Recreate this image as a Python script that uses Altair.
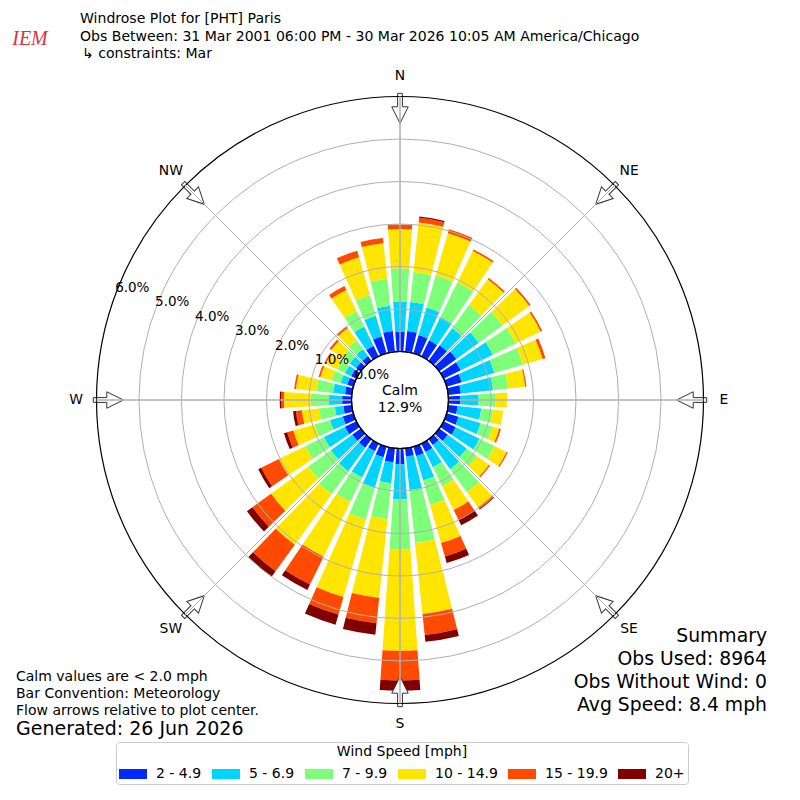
import math
import altair as alt
import pandas as pd

# ---------------- data ----------------
directions = list(range(0, 360, 10))
speed_bins = ["2 - 4.9", "5 - 6.9", "7 - 9.9", "10 - 14.9", "15 - 19.9", "20+"]
bin_colors = ["#0028ff", "#00d4ff", "#7dff7a", "#ffe500", "#ff4a00", "#800000"]

# percent of observations per direction (0,10,...,350) for each speed bin
spd_2_5 = [0.47, 0.49, 0.45, 0.42, 0.45, 0.50, 0.45, 0.37, 0.30, 0.28, 0.22, 0.29,
           0.32, 0.25, 0.17, 0.22, 0.23, 0.20, 0.37, 0.33, 0.26, 0.20, 0.25, 0.25,
           0.30, 0.26, 0.20, 0.22, 0.16, 0.15, 0.14, 0.14, 0.14, 0.28, 0.42, 0.49]
spd_5_7 = [0.70, 0.69, 0.67, 0.61, 0.50, 0.65, 0.84, 0.80, 0.76, 0.43, 0.56, 0.54,
           0.62, 0.55, 0.70, 0.40, 0.60, 0.79, 0.83, 0.50, 0.75, 0.69, 0.68, 0.62,
           0.55, 0.31, 0.20, 0.31, 0.28, 0.16, 0.16, 0.18, 0.20, 0.50, 0.50, 0.60]
spd_7_10 = [0.78, 0.71, 0.79, 0.91, 0.67, 0.70, 0.60, 0.70, 0.36, 0.40, 0.28, 0.29,
            0.40, 0.30, 0.67, 0.50, 0.60, 1.25, 1.17, 0.85, 0.77, 0.64, 0.67, 0.66,
            0.49, 0.38, 0.38, 0.43, 0.40, 0.22, 0.20, 0.22, 0.26, 0.41, 0.50, 0.64]
spd_10_15 = [0.93, 1.17, 1.03, 0.82, 0.75, 0.77, 0.65, 0.48, 0.40, 0.27, 0.24, 0.17,
             0.31, 0.35, 0.44, 0.62, 0.93, 1.68, 2.39, 1.86, 1.90, 1.43, 1.47, 1.08,
             0.69, 0.52, 0.40, 0.63, 0.48, 0.28, 0.30, 0.32, 0.35, 0.55, 0.93, 0.84]
spd_15_20 = [0.11, 0.11, 0.10, 0.04, 0.04, 0.04, 0.04, 0.07, 0.03, 0.00, 0.00, 0.04,
             0.03, 0.03, 0.05, 0.24, 0.33, 0.50, 0.70, 0.60, 0.43, 0.73, 0.77, 0.54,
             0.46, 0.15, 0.14, 0.06, 0.04, 0.04, 0.04, 0.05, 0.05, 0.10, 0.16, 0.12]
spd_20p = [0.00, 0.03, 0.00, 0.00, 0.00, 0.00, 0.00, 0.00, 0.00, 0.00, 0.00, 0.00,
           0.00, 0.00, 0.02, 0.16, 0.16, 0.16, 0.24, 0.27, 0.25, 0.14, 0.16, 0.16,
           0.08, 0.08, 0.07, 0.04, 0.00, 0.00, 0.00, 0.00, 0.00, 0.00, 0.00, 0.00]
series = [spd_2_5, spd_5_7, spd_7_10, spd_10_15, spd_15_20, spd_20p]
for s in series:
    assert len(s) == len(directions)

ring_values = [0, 1, 2, 3, 4, 5, 6]
compass_dirs = [0, 45, 90, 135, 180, 225, 270, 315]
compass_names = ["N", "NE", "E", "SE", "S", "SW", "W", "NW"]
calm_pct = 12.9

title_lines = ["Windrose Plot for [PHT] Paris",
               "Obs Between: 31 Mar 2001 06:00 PM - 30 Mar 2026 10:05 AM America/Chicago"]
constraint_line = "\u21b3 constraints: Mar"
note_lines = ["Calm values are < 2.0 mph", "Bar Convention: Meteorology",
              "Flow arrows relative to plot center."]
generated_line = "Generated: 26 Jun 2026"
summary_lines = ["Summary", "Obs Used: 8964", "Obs Without Wind: 0", "Avg Speed: 8.4 mph"]

# ---------------- geometry ----------------
W = H = 784
CX, CY = W / 2, H / 2
R0, K = 48.5, 42.5          # pixel radius of 0 %, pixels per 1 %


def rpx(p):
    return R0 + K * p


HALF_W = 4                   # half angular width of a bar (deg)
FONT = "DejaVu Sans"

theta_scale = alt.Scale(type="linear", domain=[0, 360], range=[0, 2 * math.pi],
                        zero=False, nice=False)
radius_scale = alt.Scale(type="linear", domain=[0, 6], range=[rpx(0), rpx(6)],
                         zero=False, nice=False)


def th(field):
    return alt.Theta(field, scale=theta_scale, stack=False)


def rad(field):
    return alt.Radius(field, scale=radius_scale, stack=False)


# ---------------- bars ----------------
rows = []
for i, d in enumerate(directions):
    cum = 0.0
    for b, s in zip(speed_bins, series):
        v = s[i]
        rows.append({"t0": d - HALF_W, "t1": d + HALF_W, "r_in": cum,
                     "r_out": cum + v, "speed": b, "dir": d, "pct": v})
        cum += v
bars_df = pd.DataFrame(rows)

legend = alt.Legend(
    orient="none", legendX=108, legendY=734, direction="horizontal",
    title="Wind Speed [mph]", titleAnchor="middle", titleFont=FONT,
    titleFontSize=14, titleFontWeight="normal", titleColor="black", titlePadding=1,
    labelFont=FONT, labelFontSize=14, labelColor="black", labelOffset=9,
    symbolType="M-1,-0.357L1,-0.357L1,0.357L-1,0.357Z", symbolSize=784,
    symbolStrokeWidth=0, symbolOpacity=1, columnPadding=10,
    strokeColor="#cccccc", fillColor="white", padding=3, cornerRadius=3,
)

bars = alt.Chart(bars_df).mark_arc().encode(
    theta=th("t0:Q"), theta2="t1:Q",
    radius=rad("r_out:Q"), radius2="r_in:Q",
    color=alt.Color("speed:N", scale=alt.Scale(domain=speed_bins, range=bin_colors),
                    sort=speed_bins, legend=legend),
)

# ---------------- arrows at compass points ----------------
ARROW = "M-0.16,-1L0.16,-1L0.16,-0.1L0.55,-0.1L0,1L-0.55,-0.1L-0.16,-0.1Z"
arrow_r = rpx(6) - 11.8
arrow_df = pd.DataFrame({
    "ang": compass_dirs,
    "px": [CX + arrow_r * math.sin(math.radians(a)) for a in compass_dirs],
    "py": [CY - arrow_r * math.cos(math.radians(a)) for a in compass_dirs],
})
arrows = alt.Chart(arrow_df).mark_point(
    shape=ARROW, size=900, filled=True, fill="white", stroke="#333333",
    strokeWidth=1, opacity=1,
).encode(
    x=alt.X("px:Q", scale=None, axis=None),
    y=alt.Y("py:Q", scale=None, axis=None),
    angle=alt.Angle("ang:Q", scale=None),
)

# ---------------- grid ----------------
rings_df = pd.DataFrame({"r": ring_values[1:-1], "a0": 0, "a1": 360})
rings = alt.Chart(rings_df).mark_arc(filled=False, stroke="#b0b0b0", strokeWidth=1).encode(
    theta=th("a0:Q"), theta2="a1:Q", radius=rad("r:Q"))

outer_df = pd.DataFrame({"r": [ring_values[-1]], "a0": [0], "a1": [360]})
outer = alt.Chart(outer_df).mark_arc(filled=False, stroke="black", strokeWidth=1.2).encode(
    theta=th("a0:Q"), theta2="a1:Q", radius=rad("r:Q"))

spokes_df = pd.DataFrame({"a": compass_dirs, "r_in": ring_values[0], "r_out": ring_values[-1]})
spokes = alt.Chart(spokes_df).mark_arc(filled=False, stroke="#b0b0b0", strokeWidth=1).encode(
    theta=th("a:Q"), theta2="a:Q", radius=rad("r_out:Q"), radius2="r_in:Q")

calm_df = pd.DataFrame({"r": [ring_values[0]], "a0": [0], "a1": [360]})
calm = alt.Chart(calm_df).mark_arc(fill="white", stroke="black", strokeWidth=1.2).encode(
    theta=th("a0:Q"), theta2="a1:Q", radius=rad("r:Q"))

# ---------------- polar labels ----------------
ring_lab_df = pd.DataFrame({"r": ring_values, "a": 290,
                            "lab": [f"{v:.1f}%" for v in ring_values]})
ring_labels = alt.Chart(ring_lab_df).mark_text(
    dx=17.5, dy=-8.5, fontSize=13.5, font=FONT, align="center", baseline="middle",
    color="black").encode(theta=th("a:Q"), radius=rad("r:Q"), text="lab:N")

compass_r = (324 - R0) / K
compass_df = pd.DataFrame({"a": compass_dirs, "r": compass_r, "lab": compass_names})
compass_labels = alt.Chart(compass_df).mark_text(
    fontSize=13.9, font=FONT, align="center", baseline="middle", color="black").encode(
    theta=th("a:Q"), radius=rad("r:Q"), text="lab:N")


# ---------------- free text ----------------
def text_block(lines, x, ys, size, align="left", color="black", **kw):
    df = pd.DataFrame({"t": lines, "px": [x] * len(lines), "py": ys})
    return alt.Chart(df).mark_text(align=align, baseline="middle", fontSize=size,
                                   color=color, **kw).encode(
        x=alt.X("px:Q", scale=None, axis=None),
        y=alt.Y("py:Q", scale=None, axis=None),
        text="t:N")


calm_text = text_block(["Calm", f"{calm_pct:.1f}%"], CX, [CY - 9, CY + 7.5], 14,
                       align="center", font=FONT)
titles = text_block(title_lines, 72, [11, 29], 14.05, font=FONT)
constraint = text_block([constraint_line], 74, [46], 14.05, font=FONT)
notes = text_block(note_lines, 8, [669, 686, 703], 14, font=FONT)
generated = text_block([generated_line], 8, [721], 19, font=FONT)
summary = text_block(summary_lines, 759, [628, 651, 674, 697], 18.8, align="right", font=FONT)
logo = text_block(["IEM"], 22, [31], 20, align="center", color="#d9333f",
                  font="Liberation Serif", fontStyle="italic")

chart = alt.layer(
    bars, arrows, rings, outer, spokes, calm,
    ring_labels, compass_labels, calm_text, titles, constraint, notes,
    generated, summary, logo,
).properties(
    width=W, height=H, padding=0,
    autosize=alt.AutoSizeParams(type="none"),
).configure(font=FONT).configure_view(strokeWidth=0)

chart.save("out.html", embed_options={"renderer": "svg", "actions": False})
